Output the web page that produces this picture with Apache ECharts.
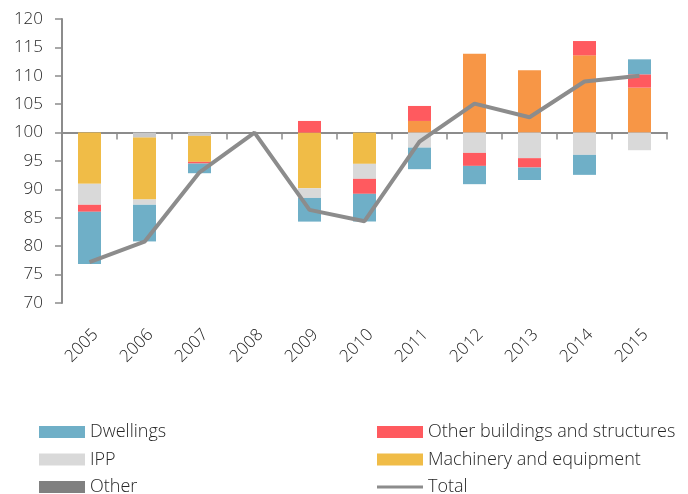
<!DOCTYPE html>
<html>
<head>
<meta charset="utf-8">
<script src="https://cdn.jsdelivr.net/npm/echarts@6/dist/echarts.min.js"></script>
<style>
  html, body { margin: 0; padding: 0; background: #fff; }
  #chart { width: 688px; height: 494px; }
</style>
</head>
<body>
<div id="chart"></div>
<script>
// contributions in points relative to 100 (2008 = 100)
const years = ['2005', '2006', '2007', '2008', '2009', '2010', '2011', '2012', '2013', '2014', '2015']
const other = [0, -0.88, -0.58, 0, 0, 0, 0, 0, 0, 0, 0]
const machinery = [-9.02, -10.9, -4.57, 0, -9.8, -5.5, 2.05, 13.9, 10.97, 13.6, 7.91]
const ipp = [-3.69, -0.93, 0, 0, -1.7, -2.64, -2.64, -3.57, -4.5, -3.92, -3.1]
const otherBuildings = [-1.23, 0, -0.3, 0, 2.05, -2.64, 2.64, -2.29, -1.65, 2.52, 2.35]
const dwellings = [-9.2, -6.45, -1.7, 0, -4.17, -4.87, -3.8, -3.22, -2.2, -3.52, 2.64]
const total = [77.2, 80.8, 93.0, 100, 86.4, 84.4, 98.4, 105.1, 102.7, 109.0, 110.0]
const yTicks = { min: 70, max: 120, step: 5 }
const base = 100

const FONT = '"Open Sans", sans-serif'
const TEXT = '#262626'
const AXIS = '#8c8c8c'

function bar(name, data, color, posColor) {
  return {
    name,
    type: 'bar',
    stack: 'contrib',
    barWidth: 23,
    itemStyle: { color },
    data: data.map(v => (posColor && v > 0 ? { value: v, itemStyle: { color: posColor } } : v)),
  }
}

const legendText = { fontFamily: FONT, fontSize: 18, fontWeight: 300, color: TEXT, lineHeight: 17 }

const chart = echarts.init(document.getElementById('chart'))
chart.setOption({
  animation: false,
  grid: { left: 62, top: 19, width: 605, height: 284 },
  legend: [
    {
      orient: 'vertical', left: 34, top: 418, height: 90, itemWidth: 46, itemHeight: 12, itemGap: 9.5,
      icon: 'rect',
      textStyle: legendText,
      data: ['Dwellings', 'IPP', 'Other'],
    },
    {
      orient: 'vertical', left: 372, top: 418, height: 90, itemWidth: 46, itemHeight: 12, itemGap: 9.5,
      textStyle: legendText,
      data: [
        { name: 'Other buildings and structures', icon: 'rect' },
        { name: 'Machinery and equipment', icon: 'rect' },
        { name: 'Total', icon: 'path://M0,0H46V3H0Z' },
      ],
    },
  ],
  xAxis: [
    {
      type: 'category',
      data: years,
      axisLine: { onZero: true, lineStyle: { color: AXIS, width: 2 } },
      axisTick: { show: true, length: 7, lineStyle: { color: AXIS, width: 1.5 } },
      axisLabel: { show: false },
    },
    {
      type: 'category',
      data: years,
      position: 'bottom',
      axisLine: { show: false, onZero: false },
      axisTick: { show: false },
      axisLabel: {
        rotate: 45, margin: 23, verticalAlign: 'top',
        fontFamily: FONT, fontSize: 17, fontWeight: 300, color: TEXT,
      },
    },
  ],
  yAxis: {
    type: 'value',
    min: yTicks.min - base,
    max: yTicks.max - base,
    interval: yTicks.step,
    splitLine: { show: false },
    axisLine: { show: true, lineStyle: { color: AXIS, width: 2 } },
    axisTick: { show: true, length: 7, lineStyle: { color: AXIS, width: 1.5 } },
    axisLabel: {
      margin: 19, fontFamily: FONT, fontSize: 17, fontWeight: 300, color: TEXT,
      formatter: v => String(v + base),
    },
  },
  series: [
    bar('Other', other, '#808080'),
    bar('Machinery and equipment', machinery, '#f0bc47', '#f79646'),
    bar('IPP', ipp, '#d9d9d9'),
    bar('Other buildings and structures', otherBuildings, '#ff5a5f'),
    bar('Dwellings', dwellings, '#6fafc7'),
    {
      name: 'Total',
      type: 'line',
      data: total.map(v => +(v - base).toFixed(2)),
      symbol: 'none',
      z: 5,
      lineStyle: { color: '#8c8c8c', width: 4 },
      itemStyle: { color: '#8c8c8c' },
    },
  ],
})
// the two "Other" slivers look light grey in the bars
chart.setOption({
  series: [{ name: 'Other', data: other.map(v => ({ value: v, itemStyle: { color: '#c8c8c8' } })) }],
})
</script>
</body>
</html>
